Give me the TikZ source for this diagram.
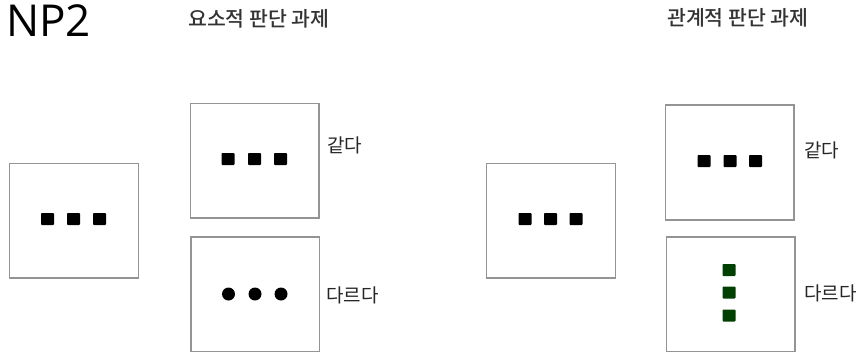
\documentclass[tikz,border=0pt]{standalone}
\usepackage{fontspec}
\setmainfont{Open Sans}
\newfontfamily\kr{Noto Sans CJK KR}
\newfontfamily\krm{Noto Sans CJK KR Medium}
\begin{document}
\begin{tikzpicture}[x=1pt,y=-1pt,
  panel/.style={draw=black!42,line width=1.3pt,fill=white},
  sq/.style={fill=black,minimum width=13pt,minimum height=12pt,inner sep=0pt,rounded corners=0.8pt},
  gsq/.style={fill=green!25!black,minimum width=13pt,minimum height=12pt,inner sep=0pt,rounded corners=0.8pt},
  dot/.style={circle,fill=black,minimum size=13pt,inner sep=0pt},
  lbl/.style={font=\kr\fontsize{19}{21}\selectfont,text=black!85,anchor=west,inner sep=0pt},
  ttl/.style={font=\krm\fontsize{20.5}{22}\selectfont,text=black!80,anchor=west,inner sep=0pt}]
\useasboundingbox (0,0) rectangle (867,351);
\fill[white] (0,0) rectangle (867,351);
\node[anchor=west,inner sep=0pt,font=\fontsize{44}{48}\selectfont] (np) at (6,21) {NP2};
\node[ttl] (t1) at (188,19) {요소적 판단 과제};
\node[ttl] (t2) at (667,18) {관계적 판단 과제};
% left group
\draw[panel] (9.5,163.5) rectangle (138.5,278);
\node[sq] (a1) at (47.5,219) {};
\node[sq] (a2) at (73.5,219) {};
\node[sq] (a3) at (99.5,219) {};
\draw[panel] (190.5,103.5) rectangle (319,218);
\node[sq] (b1) at (228,159) {};
\node[sq] (b2) at (254.5,159) {};
\node[sq] (b3) at (280.5,159) {};
\draw[panel] (191,237) rectangle (319.5,352);
\node[dot] (c1) at (228.5,294) {};
\node[dot] (c2) at (255,294) {};
\node[dot] (c3) at (281,294) {};
\node[lbl] (l1) at (327,145) {같다};
\node[lbl] (l2) at (326,295) {다르다};
% right group
\draw[panel] (486.5,163.5) rectangle (615.5,278);
\node[sq] (d1) at (525,219) {};
\node[sq] (d2) at (550.5,219) {};
\node[sq] (d3) at (576,219) {};
\draw[panel] (665.5,105) rectangle (794,220);
\node[sq] (e1) at (704,161) {};
\node[sq] (e2) at (730,161) {};
\node[sq] (e3) at (755.5,161) {};
\draw[panel] (666.5,237) rectangle (795,352);
\node[gsq] (f1) at (729,270) {};
\node[gsq] (f2) at (729,292.5) {};
\node[gsq] (f3) at (729,315.5) {};
\node[lbl] (l3) at (804,150) {같다};
\node[lbl] (l4) at (804,293) {다르다};
\end{tikzpicture}
\end{document}
